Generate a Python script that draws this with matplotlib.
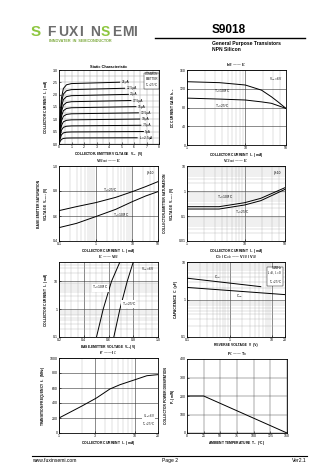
import matplotlib
matplotlib.use("Agg")
import matplotlib.pyplot as plt
import numpy as np

plt.rcParams['font.family'] = ['Liberation Sans', 'DejaVu Sans']

W, H = 336, 475

# ---- static characteristic ----
ib_labels = ["25μA", "22.5μA", "20μA", "17.5μA", "15μA", "12.5μA", "10μA", "7.5μA", "5μA", "I$_B$=2.5μA"]
ic_plateau = [2.5, 2.25, 2.0, 1.75, 1.5, 1.25, 1.0, 0.75, 0.5, 0.25]
knee_vce = [0, 0.1, 0.2, 0.35, 0.6, 1.0, 8.0]
knee_frac = [0, 0.45, 0.75, 0.9, 0.96, 0.98, 1.02]
label_vce = [5.0, 5.4, 5.7, 5.9, 6.3, 6.5, 6.6, 6.7, 6.9, 6.4]

# ---- hFE - IC ----
hfe_ic = [1, 3.6, 10, 19, 28, 36.5, 50]
hfe_100 = [135, 133, 128, 117, 103, 92, 78]
hfe_25 = [100, 98, 96, 92, 89, 84, 78]

# ---- VBEsat - IC ----
vbe_ic = [0.1, 0.3, 1.0, 3.5, 10, 23, 50]
vbe_25 = [0.643, 0.675, 0.707, 0.749, 0.795, 0.835, 0.875]
vbe_100 = [0.507, 0.541, 0.595, 0.653, 0.715, 0.76, 0.795]

# ---- VCEsat - IC ----
vce_ic = [1, 3.6, 10, 19, 50]
vce_100 = [0.236, 0.236, 0.341, 0.509, 1.36]
vce_25 = [0.19, 0.19, 0.276, 0.41, 1.16]

# ---- IC - VBE ----
ic_pts = [0.1, 1, 10, 50]
vbe_t100 = [0.503, 0.557, 0.624, 0.692]
vbe_t25 = [0.643, 0.692, 0.751, 0.80]

# ---- capacitance ----
cib_v = [0.1, 5.4]
cib_c = [3.7, 2.2]
cob_v = [0.1, 20]
cob_c = [2.1, 1.35]

# ---- fT - IC ----
ft_ic = [1.0, 1.97, 3.11, 4.67, 6.33, 10, 14.3, 20]
ft_mhz = [200, 356, 467, 587, 644, 711, 764, 778]

# ---- PC - Ta ----
pc_ta = [0, 25, 150]
pc_mw = [200, 200, 0]

fig = plt.figure(figsize=(W / 100, H / 100), dpi=100)

def fx(x):
    return x / W

def fy(y):
    return 1 - y / H

def panel(x0, y0, x1, y1):
    ax = fig.add_axes([fx(x0), fy(y1), (x1 - x0) / W, (y1 - y0) / H])
    ax.tick_params(which='both', labelsize=2.5, length=1.2, width=0.4, pad=1.0, direction='in')
    ax.tick_params(which='minor', length=0)
    for s in ax.spines.values():
        s.set_linewidth(0.6)
    return ax

def labels(ax, title, xl, yl, tx=0.5):
    ax.text(tx, 1.012, title, transform=ax.transAxes, fontsize=2.8, fontweight='bold',
            ha='center', va='bottom')
    ax.set_xlabel(xl, fontsize=2.4, labelpad=0.3, fontweight='bold')
    ax.set_ylabel(yl, fontsize=2.4, labelpad=2, fontweight='bold', linespacing=1.1)

def loggrid(ax, axis='x'):
    ax.grid(True, which='major', axis=axis, color='#333333', lw=0.4)
    ax.grid(True, which='minor', axis=axis, color='#aaaaaa', lw=0.25)

# header
fig.text(fx(31), fy(36), "S", fontsize=11, fontweight='bold', color='#8dc63f', va='baseline')
for i, ch in enumerate("FUXINSEMI"):
    col = '#8dc63f' if ch == 'S' else '#6d6d6d'
    fig.text(fx(47 + i * 10.8), fy(36), ch, fontsize=10, fontweight='bold', color=col, va='baseline')
fig.text(fx(49), fy(41.5), "INNOVATER  IN  SEMICONDUCTOR", fontsize=2.7, color='#7aa83a',
         va='baseline', fontweight='bold')
fig.add_artist(plt.Line2D([fx(155), fx(305)], [fy(37.5), fy(37.5)], color='black', lw=1.0))
fig.text(fx(212), fy(33), "S9018", fontsize=8.5, fontweight='bold', va='baseline')
fig.text(fx(212), fy(45), "General Purpose Transistors", fontsize=3.6, fontweight='bold', va='baseline')
fig.text(fx(212), fy(51), "NPN Silicon", fontsize=3.6, fontweight='bold', va='baseline')

# footer
fig.add_artist(plt.Line2D([fx(32), fx(307)], [fy(456), fy(456)], color='black', lw=0.8))
fig.text(fx(32), fy(462), "www.fuxinsemi.com", fontsize=3.6, va='baseline')
fig.text(fx(170), fy(462), "Page 2", fontsize=3.6, va='baseline', ha='center')
fig.text(fx(307), fy(462), "Ver2.1", fontsize=3.6, va='baseline', ha='right')

# 1 static characteristic
ax = panel(59, 70, 159, 144)
for lvl, lab, lx in zip(ic_plateau, ib_labels, label_vce):
    v = np.array(knee_vce, dtype=float)
    f = np.array(knee_frac) * lvl
    end = lx - 0.15
    keep = v < end
    vv = np.append(v[keep], end)
    ff = np.append(f[keep], np.interp(end, v, f))
    ax.plot(vv, ff, color='black', lw=0.7)
    ax.text(lx, np.interp(end, v, f), lab, fontsize=2.3, va='center', ha='left')
ax.set_xlim(0, 8)
ax.set_ylim(0, 3.0)
ax.set_xticks(np.arange(0, 9, 1))
ax.set_yticks(np.arange(0, 3.01, 0.5))
ax.set_yticklabels([f"{v:.1f}" for v in np.arange(0, 3.01, 0.5)])
ax.set_xticks(np.arange(0, 8, 0.5), minor=True)
ax.set_yticks(np.arange(0, 3.0, 0.25), minor=True)
ax.grid(True, which='both', color='#999999', lw=0.3)
ax.text(0.99, 0.97, "COMMON\nEMITTER\nT$_a$=25°C", transform=ax.transAxes, fontsize=2.1,
        ha='right', va='top', linespacing=1.1,
        bbox=dict(facecolor='white', edgecolor='black', lw=0.3, pad=0.6))
labels(ax, "Static Characteristic", "COLLECTOR-EMITTER VOLTAGE  V$_{CE}$  (V)",
       "COLLECTOR CURRENT  I$_C$  (mA)")

# 2 hFE - IC
ax = panel(187, 70, 286, 145)
ax.semilogx(hfe_ic, hfe_100, color='black', lw=0.7)
ax.semilogx(hfe_ic, hfe_25, color='black', lw=0.7)
ax.set_xlim(1, 50)
ax.set_ylim(0, 160)
ax.set_xticks([1, 10, 50])
ax.set_xticklabels(["1", "10", "50"])
ax.set_yticks([0, 40, 80, 120, 160])
loggrid(ax, 'x')
ax.grid(True, which='major', axis='y', color='#333333', lw=0.4)
ax.text(4, 122, "T$_a$=100°C", fontsize=2.3, ha='center', va='top')
ax.text(4, 91, "T$_a$=25°C", fontsize=2.3, ha='center', va='top')
ax.text(0.96, 0.93, "V$_{CE}$=6V", transform=ax.transAxes, fontsize=2.3, ha='right', va='top')
labels(ax, "h$_{FE}$ —— I$_C$", "COLLECTOR CURRENT  I$_C$  (mA)", "DC CURRENT GAIN  h$_{FE}$")

# 3 VBEsat - IC
ax = panel(59, 166, 158, 241)
ax.semilogx(vbe_ic, vbe_25, color='black', lw=0.7)
ax.semilogx(vbe_ic, vbe_100, color='black', lw=0.7)
ax.set_xlim(0.1, 50)
ax.set_ylim(0.4, 1.0)
ax.set_xticks([0.1, 1, 10, 50])
ax.set_xticklabels(["0.1", "1", "10", "50"])
ax.set_yticks([0.4, 0.6, 0.8, 1.0])
ax.set_yticklabels(["0.4", "0.6", "0.8", "1.0"])
loggrid(ax, 'x')
ax.grid(True, which='major', axis='y', color='#333333', lw=0.4)
ax.text(2.5, 0.775, "T$_a$=25°C", fontsize=2.3, ha='center', va='bottom')
ax.text(5, 0.64, "T$_a$=100°C", fontsize=2.3, ha='center', va='top')
ax.text(0.96, 0.94, "β=10", transform=ax.transAxes, fontsize=2.3, ha='right', va='top')
labels(ax, "V$_{BEsat}$ —— I$_C$", "COLLECTOR CURRENT  I$_C$  (mA)",
       "BASE-EMITTER SATURATION\nVOLTAGE  V$_{BEsat}$ (V)")

# 4 VCEsat - IC
ax = panel(187, 166, 285, 241)
ax.loglog(vce_ic, vce_100, color='black', lw=0.7)
ax.loglog(vce_ic, vce_25, color='black', lw=0.7)
ax.set_xlim(1, 50)
ax.set_ylim(0.01, 10)
ax.set_xticks([1, 10, 50])
ax.set_xticklabels(["1", "10", "50"])
ax.set_yticks([0.01, 0.1, 1, 10])
ax.set_yticklabels(["0.01", "0.1", "1", "10"])
loggrid(ax, 'both')
ax.text(4.5, 0.4, "T$_a$=100°C", fontsize=2.3, ha='center', va='bottom')
ax.text(9, 0.2, "T$_a$=25°C", fontsize=2.3, ha='center', va='top')
ax.text(0.96, 0.93, "β=10", transform=ax.transAxes, fontsize=2.3, ha='right', va='top')
labels(ax, "V$_{CEsat}$ —— I$_C$", "COLLECTOR CURRENT  I$_C$  (mA)",
       "COLLECTOR-EMITTER SATURATION\nVOLTAGE  V$_{CEsat}$ (V)")

# 5 IC - VBE
ax = panel(59, 262, 158, 337)
ax.semilogy(vbe_t100, ic_pts, color='black', lw=0.7)
ax.semilogy(vbe_t25, ic_pts, color='black', lw=0.7)
ax.set_xlim(0.2, 1.0)
ax.set_ylim(0.1, 50)
ax.set_xticks([0.2, 0.4, 0.6, 0.8, 1.0])
ax.set_xticklabels(["0.2", "0.4", "0.6", "0.8", "1.0"])
ax.set_xticks(np.arange(0.2, 1.0, 0.05), minor=True)
ax.set_yticks([0.1, 1, 10])
ax.set_yticklabels(["0.1", "1", "10"])
loggrid(ax, 'both')
ax.text(0.535, 6, "T$_a$=100°C", fontsize=2.3, ha='center', va='center',
        bbox=dict(facecolor='white', edgecolor='none', pad=0.2))
ax.text(0.765, 1.5, "T$_a$=25°C", fontsize=2.3, ha='center', va='center',
        bbox=dict(facecolor='white', edgecolor='none', pad=0.2))
ax.text(0.96, 0.95, "V$_{CE}$=6V", transform=ax.transAxes, fontsize=2.3, ha='right', va='top')
labels(ax, "I$_C$ —— V$_{BE}$", "BASE-EMITTER VOLTAGE  V$_{BE}$(V)", "COLLECTOR CURRENT  I$_C$  (mA)")

# 6 capacitance
ax = panel(187, 262, 285, 337)
ax.loglog(cib_v, cib_c, color='black', lw=0.7)
ax.loglog(cob_v, cob_c, color='black', lw=0.7)
ax.set_xlim(0.1, 20)
ax.set_ylim(0.1, 10)
ax.set_xticks([0.1, 1, 10, 20])
ax.set_xticklabels(["0.1", "1", "10", "20"])
ax.set_yticks([0.1, 1, 10])
ax.set_yticklabels(["0.1", "1", "10"])
loggrid(ax, 'both')
ax.text(0.5, 3.2, "C$_{ib}$", fontsize=2.3, ha='center', va='bottom')
ax.text(1.7, 1.55, "C$_{ob}$", fontsize=2.3, ha='center', va='top')
ax.text(0.97, 0.95, "f=1MHz\nI$_E$=0, I$_C$=0\nT$_a$=25°C", transform=ax.transAxes, fontsize=2.1,
        ha='right', va='top', linespacing=1.1,
        bbox=dict(facecolor='white', edgecolor='black', lw=0.3, pad=0.6))
labels(ax, "C$_{ib}$ / C$_{ob}$ —— V$_{EB}$ / V$_{CB}$", "REVERSE VOLTAGE  V  (V)",
       "CAPACITANCE  C  (pF)")

# 7 fT - IC
ax = panel(59, 358, 158, 433)
ax.semilogx(ft_ic, ft_mhz, color='black', lw=0.7)
ax.set_xlim(1, 20)
ax.set_ylim(0, 1000)
ax.set_xticks([1, 3, 10, 20])
ax.set_xticklabels(["1", "3", "10", "20"])
ax.set_yticks(np.arange(0, 1001, 200))
loggrid(ax, 'x')
ax.grid(True, which='major', axis='y', color='#333333', lw=0.4)
ax.text(0.97, 0.06, "V$_{CE}$=6V\nT$_a$=25°C", transform=ax.transAxes, fontsize=2.1,
        ha='right', va='bottom', linespacing=1.1,
        bbox=dict(facecolor='white', edgecolor='none', pad=0.3))
labels(ax, "f$_T$ —— I$_C$", "COLLECTOR CURRENT  I$_C$  (mA)", "TRANSITION FREQUENCY  f$_T$  (MHz)")

# 8 PC - Ta
ax = panel(187, 359, 287, 433)
ax.plot(pc_ta, pc_mw, color='black', lw=0.7)
ax.set_xlim(0, 150)
ax.set_ylim(0, 400)
ax.set_xticks(np.arange(0, 151, 25))
ax.set_yticks(np.arange(0, 401, 100))
ax.grid(True, color='#555555', lw=0.35)
labels(ax, "P$_C$ —— T$_a$", "AMBIENT TEMPERATURE  T$_a$  (°C)",
       "COLLECTOR POWER DISSIPATION\nP$_C$ (mW)")

fig.savefig("out.png", dpi=100)
